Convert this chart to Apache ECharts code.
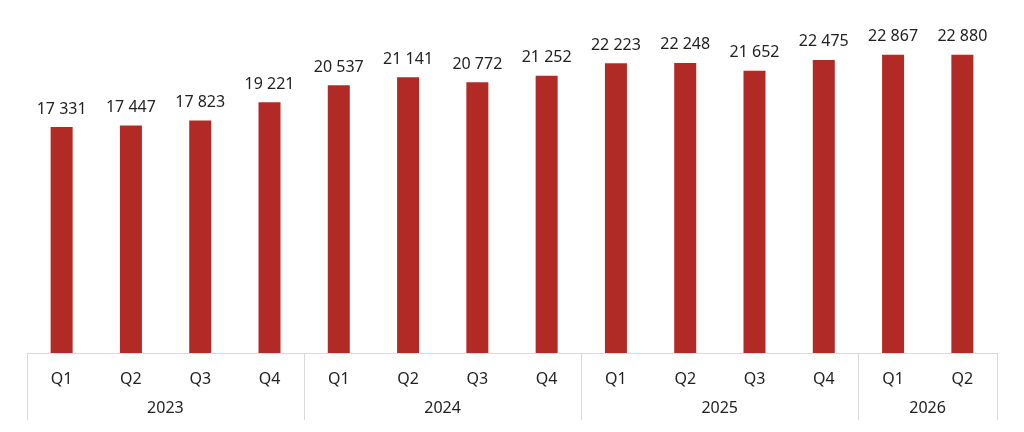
<!DOCTYPE html>
<html>
<head>
    <meta charset="utf-8">
    <script src="https://cdn.jsdelivr.net/npm/echarts@6/dist/echarts.min.js"></script>
    <style>
        body { margin: 0; background: #fff; }
    </style>
</head>
<body>
    <div id="main" style="width: 1024px;height:432px;"></div>
    <script type="text/javascript">
        // data
        var quarters = ['Q1', 'Q2', 'Q3', 'Q4', 'Q1', 'Q2', 'Q3', 'Q4', 'Q1', 'Q2', 'Q3', 'Q4', 'Q1', 'Q2'];
        var years = ['2023', '2023', '2023', '2023', '2024', '2024', '2024', '2024', '2025', '2025', '2025', '2025', '2026', '2026'];
        var values = [17331, 17447, 17823, 19221, 20537, 21141, 20772, 21252, 22223, 22248, 21652, 22475, 22867, 22880];

        // first index of each year group and where its label goes
        var yearStart = {};
        var yearLabelAt = {};
        years.forEach(function (y, i) {
            if (i === 0 || years[i - 1] !== y) yearStart[i] = true;
        });
        var groups = {};
        years.forEach(function (y, i) { (groups[y] = groups[y] || []).push(i); });
        Object.keys(groups).forEach(function (y) {
            var g = groups[y];
            yearLabelAt[g[Math.floor((g.length - 1) / 2)]] = true;
        });

        var gray = '#d9d9d9';
        var textColor = '#222';
        var font = 'Noto Sans';

        var myChart = echarts.init(document.getElementById('main'));
        myChart.setOption({
            animation: false,
            grid: { left: 27, right: 27, top: 27, bottom: 79 },
            xAxis: [{
                type: 'category',
                data: quarters,
                position: 'bottom',
                axisLine: { lineStyle: { color: gray, width: 1 } },
                axisTick: { show: false },
                axisLabel: { color: textColor, fontSize: 16, fontFamily: font, margin: 18 }
            }, {
                type: 'category',
                data: years,
                position: 'bottom',
                axisLine: { show: false },
                axisTick: {
                    show: true,
                    length: 67,
                    lineStyle: { color: gray, width: 1 },
                    interval: function (index) { return !!yearStart[index]; }
                },
                axisLabel: {
                    color: textColor, fontSize: 16, fontFamily: font, margin: 47,
                    padding: [0, 0, 0, 69],
                    interval: function (index) { return !!yearLabelAt[index]; }
                }
            }],
            yAxis: {
                type: 'value',
                min: 0,
                max: 25000,
                show: false,
                splitLine: { show: false }
            },
            series: [{
                type: 'bar',
                data: values,
                barWidth: 22,
                itemStyle: { color: '#b22a25' },
                label: {
                    show: true,
                    position: 'top',
                    distance: 10,
                    color: textColor,
                    fontSize: 16,
                    fontFamily: font,
                    formatter: function (p) {
                        return String(p.value).replace(/\B(?=(\d{3})+(?!\d))/g, ' ');
                    }
                }
            }]
        });
    </script>
</body>
</html>
